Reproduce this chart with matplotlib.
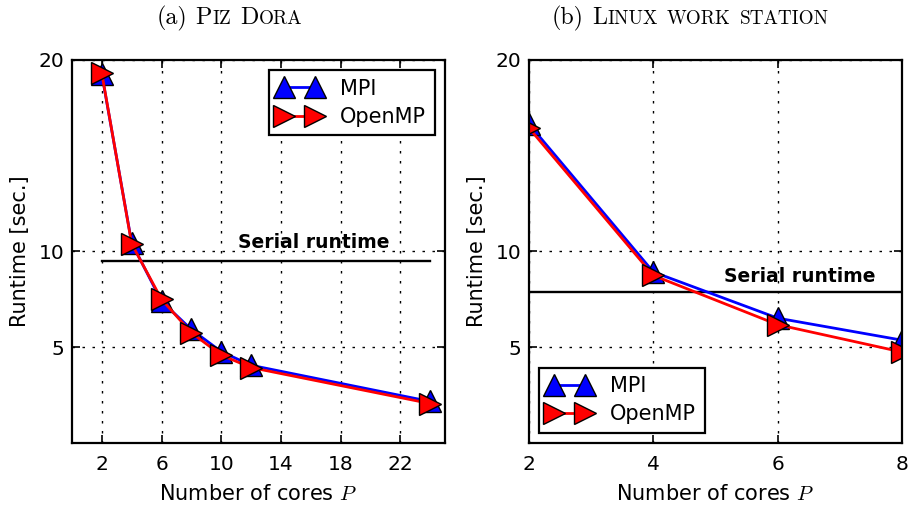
import matplotlib
matplotlib.use("Agg")
import matplotlib.pyplot as plt
import matplotlib.transforms as mtransforms

plt.rcParams['mathtext.fontset'] = 'cm'
plt.rcParams['font.family'] = ['DejaVu Sans']

# ---------------- data ----------------
cores_a = [2, 4, 6, 8, 10, 12, 24]
mpi_a = [19.25, 10.45, 7.4, 5.93, 4.77, 4.06, 2.17]
omp_a = [19.3, 10.4, 7.5, 5.76, 4.59, 3.94, 2.06]
serial_a = 9.48
serial_a_span = [2, 24]
xticks_a = [2, 6, 10, 14, 18, 22]

cores_b = [2, 4, 6, 8]
mpi_b = [16.65, 8.93, 6.52, 5.37]
omp_b = [16.45, 8.75, 6.18, 4.75]
serial_b = 7.86
serial_b_span = [2, 8]
xticks_b = [2, 4, 6, 8]

yticks = [5, 10, 20]
series_labels = ['MPI', 'OpenMP']
serial_label = 'Serial runtime'
# (text, scale, leading space?)
titles = [[('(a)', 1.0, 0), ('P', 1.0, 1), ('IZ', 0.8, 0), ('D', 1.0, 1), ('ORA', 0.8, 0)],
          [('(b)', 1.0, 0), ('L', 1.0, 1), ('INUX', 0.8, 0), ('WORK', 0.8, 1), ('STATION', 0.8, 1)]]

W, H, DPI = 9.11, 5.12, 100
fig = plt.figure(figsize=(W, H), dpi=DPI)
px_w, px_h = W * DPI, H * DPI

def axes_px(x0, x1, y0, y1):
    return [x0 / px_w, 1 - y1 / px_h, (x1 - x0) / px_w, (y1 - y0) / px_h]

ax_a = fig.add_axes(axes_px(72, 445, 60, 443))
ax_b = fig.add_axes(axes_px(529, 902, 60, 443))

grid_kw = dict(color='black', linestyle=(0, (1.8, 5.4)), linewidth=1.0)

def style(ax, xt):
    ax.set_ylim(0, 20)
    ax.set_yticks(yticks)
    ax.set_xticks(xt)
    ax.tick_params(direction='in', length=6, width=1.2, top=True, right=True,
                   labelsize=14.5)
    ax.tick_params(axis='x', pad=8.5)
    ax.tick_params(axis='y', pad=5.5)
    for s in ax.spines.values():
        s.set_linewidth(1.6)
    ax.grid(True, **grid_kw)
    ax.set_xlabel('Number of cores $P$', fontsize=15)
    ax.set_ylabel('Runtime [sec.]', fontsize=15)
    ax.xaxis.set_label_coords(0.5, -0.108)
    ax.yaxis.set_label_coords(-0.112, 0.5)

def draw(ax, cores, mpi, omp, serial, span):
    ax.plot(span, [serial, serial], color='black', linewidth=1.7, zorder=1.8)
    ax.plot(cores, mpi, color='blue', linewidth=2.0, marker='^', markersize=15.5,
            markerfacecolor='blue', markeredgecolor='black', markeredgewidth=1.0,
            label=series_labels[0], zorder=2)
    ax.plot(cores, omp, color='red', linewidth=2.0, marker='>', markersize=15.5,
            markerfacecolor='red', markeredgecolor='black', markeredgewidth=1.0,
            label=series_labels[1], zorder=2.1)

draw(ax_a, cores_a, mpi_a, omp_a, serial_a, serial_a_span)
draw(ax_b, cores_b, mpi_b, omp_b, serial_b, serial_b_span)
style(ax_a, xticks_a)
style(ax_b, xticks_b)
ax_a.set_xlim(0, 25)
ax_b.set_xlim(2, 8)

ax_a.text(16.2, 10.2, serial_label, fontsize=13.5, fontweight='bold',
          ha='center', va='baseline')
ax_b.text(6.36, 8.43, serial_label, fontsize=13.5, fontweight='bold',
          ha='center', va='baseline')

leg_kw = dict(numpoints=2, fontsize=15, handlelength=2.1, handletextpad=0.9,
              labelspacing=0.4, borderpad=0.4, fancybox=False, framealpha=1,
              edgecolor='black', borderaxespad=0.5)
la = ax_a.legend(loc='upper right', **leg_kw)
lb = ax_b.legend(loc='lower left', **leg_kw)
for lg in (la, lb):
    lg.get_frame().set_linewidth(1.6)

# ---- titles with small caps, composed piecewise ----
renderer = fig.canvas.get_renderer()

def title(parts, xc_px, base_px, size):
    texts, widths, gaps = [], [], []
    for s, sc, gap in parts:
        t = fig.text(0, 0, s, fontsize=size * sc, family='cmr10',
                     va='baseline', ha='left', transform=mtransforms.IdentityTransform())
        widths.append(t.get_window_extent(renderer).width)
        gaps.append(gap * 0.333 * size * DPI / 72.0)
        texts.append(t)
    pad = 0.03 * size * DPI / 72.0
    total = sum(widths) + sum(gaps[1:]) + pad * (len(parts) - 1)
    x = xc_px - total / 2
    y = px_h - base_px
    for i, (t, w) in enumerate(zip(texts, widths)):
        if i > 0:
            x += gaps[i] + pad
        t.set_position((x, y))
        x += w

title(titles[0], 229.5, 24, 17.3)
title(titles[1], 690, 24, 17.3)

fig.savefig('out.png', dpi=DPI)
